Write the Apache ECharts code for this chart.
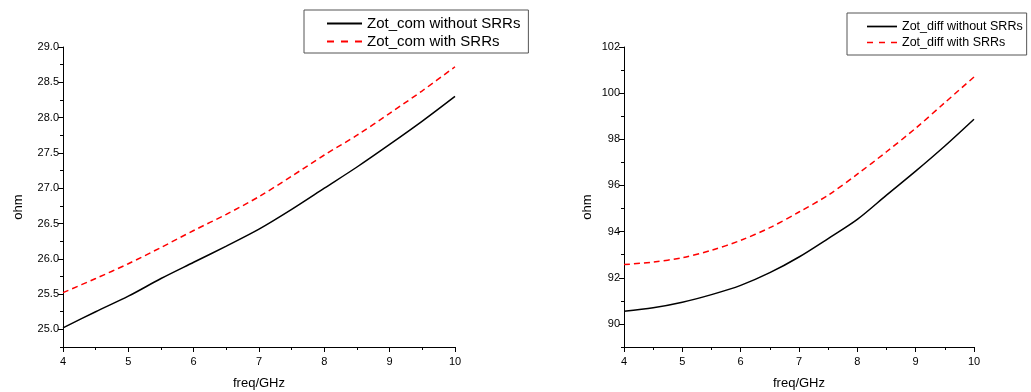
<!DOCTYPE html>
<html><head><meta charset="utf-8">
<script src="https://cdn.jsdelivr.net/npm/echarts@6/dist/echarts.min.js"></script>
<style>html,body{margin:0;padding:0;background:#fff}#c{width:1031px;height:392px}</style>
</head><body><div id="c"></div>
<script>
const freq = [4, 4.5, 5, 5.5, 6, 6.5, 7, 7.5, 8, 8.5, 9, 9.5, 10];
const comWithout = [25.02, 25.25, 25.47, 25.72, 25.95, 26.18, 26.42, 26.7, 27.0, 27.3, 27.62, 27.95, 28.3];
const comWith = [25.52, 25.72, 25.93, 26.16, 26.4, 26.63, 26.88, 27.17, 27.47, 27.75, 28.06, 28.38, 28.72];
const diffWithout = [90.55, 90.7, 90.94, 91.27, 91.67, 92.22, 92.9, 93.7, 94.53, 95.58, 96.62, 97.71, 98.87];
const diffWith = [92.57, 92.68, 92.87, 93.19, 93.62, 94.17, 94.85, 95.58, 96.49, 97.46, 98.48, 99.59, 100.7];
const leftMajor = [25.0, 25.5, 26.0, 26.5, 27.0, 27.5, 28.0, 28.5, 29.0];
const leftMinor = [24.75, 25.25, 25.75, 26.25, 26.75, 27.25, 27.75, 28.25, 28.75];
const rightMajor = [90, 92, 94, 96, 98, 100, 102];
const rightMinor = [89, 91, 93, 95, 97, 99, 101];
const names = ['Zot_com without SRRs', 'Zot_com with SRRs', 'Zot_diff without SRRs', 'Zot_diff with SRRs'];

const pair = (xs, ys) => xs.map((x, i) => [x, ys[i]]);
const font = 'Liberation Sans, Arial, sans-serif';
const lblStyle = {color: '#000', fontSize: 11, fontFamily: font};
const solidIcon = 'path://M0,0h35v2h-35z';
const dashIcon = 'path://M0,0h7v2h-7z M14,0h7v2h-7z M28,0h7v2h-7z';

function xAx(gi) {
  return {
    type: 'value', gridIndex: gi, min: 4, max: 10, interval: 1,
    name: 'freq/GHz', nameLocation: 'middle', nameGap: 30,
    nameTextStyle: {color: '#000', fontSize: 13, fontFamily: font},
    axisLine: {show: true, lineStyle: {color: '#000', width: 1}},
    axisTick: {show: true, length: 5, lineStyle: {color: '#000'}},
    minorTick: {show: true, splitNumber: 2, length: 3, lineStyle: {color: '#000'}},
    axisLabel: Object.assign({margin: 9, formatter: v => String(v)}, lblStyle),
    splitLine: {show: false}
  };
}
function yMain(gi, min, max, major, dec, gap) {
  return {
    type: 'value', gridIndex: gi, min: min, max: max,
    name: 'ohm', nameLocation: 'middle', nameGap: gap,
    nameTextStyle: {color: '#000', fontSize: 13, fontFamily: font, padding: [0, 20, 0, 0]},
    axisLine: {show: true, onZero: false, lineStyle: {color: '#000', width: 1}},
    axisTick: {show: true, length: 5, customValues: major, lineStyle: {color: '#000'}},
    axisLabel: Object.assign({margin: 4, customValues: major, formatter: v => v.toFixed(dec)}, lblStyle),
    splitLine: {show: false}
  };
}
function yMinor(gi, min, max, minor) {
  return {
    type: 'value', gridIndex: gi, min: min, max: max, position: 'left',
    axisLine: {show: false},
    axisTick: {show: true, length: 3, customValues: minor, lineStyle: {color: '#000'}},
    axisLabel: {show: false, customValues: minor},
    splitLine: {show: false}
  };
}
const chart = echarts.init(document.getElementById('c'), null, {renderer: 'canvas'});
chart.setOption({
  animation: false,
  backgroundColor: '#fff',
  grid: [
    {left: 63, right: 576, top: 47, bottom: 45, outerBoundsMode: 'none', containLabel: false},
    {left: 624, right: 57, top: 47, bottom: 45, outerBoundsMode: 'none', containLabel: false}
  ],
  xAxis: [xAx(0), xAx(1)],
  yAxis: [
    yMain(0, 24.75, 29.0, leftMajor, 1, 38),
    yMain(1, 89, 102, rightMajor, 0, 30),
    yMinor(0, 24.75, 29.0, leftMinor),
    yMinor(1, 89, 102, rightMinor)
  ],
  legend: [
    {data: [{name: names[0], icon: solidIcon}, {name: names[1], icon: dashIcon}],
     orient: 'vertical', left: 304, top: 10,
     itemWidth: 35, itemHeight: 2, itemGap: 3, padding: [6, 8, 4, 23],
     borderColor: '#555', borderWidth: 1,
     textStyle: {color: '#000', fontSize: 15, fontFamily: font}},
    {data: [{name: names[2], icon: solidIcon}, {name: names[3], icon: dashIcon}],
     orient: 'vertical', left: 847, top: 13,
     itemWidth: 30, itemHeight: 2, itemGap: 3, padding: [7, 4, 6, 20],
     borderColor: '#555', borderWidth: 1,
     textStyle: {color: '#000', fontSize: 12.5, fontFamily: font}}
  ],
  series: [
    {name: names[0], type: 'line', xAxisIndex: 0, yAxisIndex: 0, data: pair(freq, comWithout),
     symbol: 'none', smooth: 0.3, lineStyle: {color: '#000', width: 1.5}, itemStyle: {color: '#000'}},
    {name: names[1], type: 'line', xAxisIndex: 0, yAxisIndex: 0, data: pair(freq, comWith),
     symbol: 'none', smooth: 0.3, lineStyle: {color: '#ff0000', width: 1.5, type: [6, 4]}, itemStyle: {color: '#ff0000'}},
    {name: names[2], type: 'line', xAxisIndex: 1, yAxisIndex: 1, data: pair(freq, diffWithout),
     symbol: 'none', smooth: 0.3, lineStyle: {color: '#000', width: 1.5}, itemStyle: {color: '#000'}},
    {name: names[3], type: 'line', xAxisIndex: 1, yAxisIndex: 1, data: pair(freq, diffWith),
     symbol: 'none', smooth: 0.3, lineStyle: {color: '#ff0000', width: 1.5, type: [6, 4]}, itemStyle: {color: '#ff0000'}}
  ]
});
</script></body></html>
